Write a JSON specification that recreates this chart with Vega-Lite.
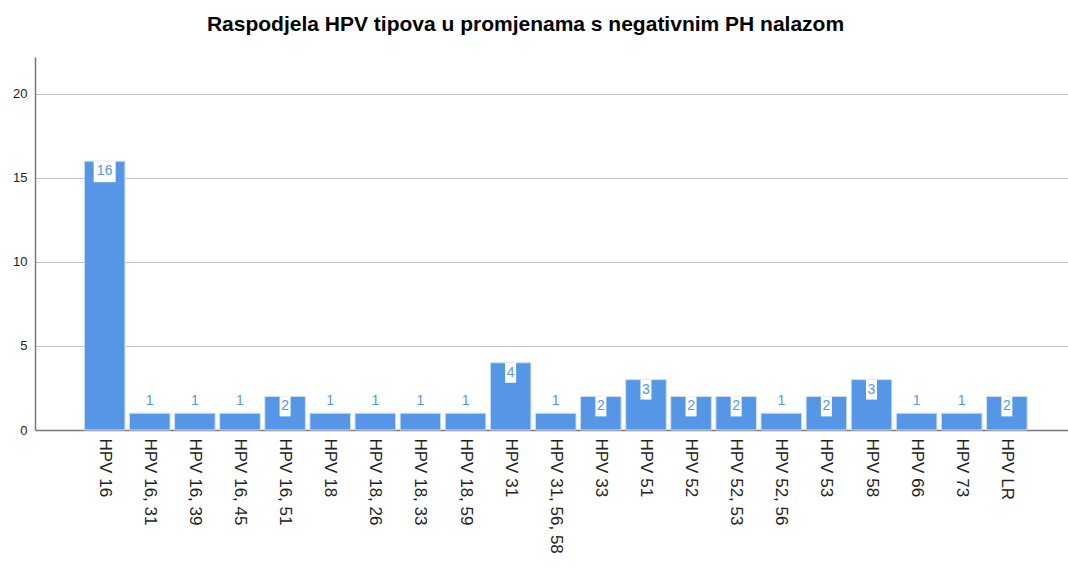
{
  "$schema": "https://vega.github.io/schema/vega-lite/v6.json",
  "autosize": "none",
  "width": 1033,
  "height": 373,
  "padding": {"left": 35, "top": 57, "right": 0, "bottom": 149},
  "background": "white",
  "title": {
    "text": "Raspodjela HPV tipova u promjenama s negativnim PH nalazom",
    "font": "Liberation Sans",
    "fontSize": 21,
    "fontWeight": "bold",
    "color": "#000000",
    "anchor": "middle",
    "dx": -26,
    "offset": 22
  },
  "config": {
    "view": {"stroke": null},
    "font": "Liberation Sans"
  },
  "data": {
    "values": [
      {"tip": "HPV 16", "n": 16},
      {"tip": "HPV 16, 31", "n": 1},
      {"tip": "HPV 16, 39", "n": 1},
      {"tip": "HPV 16, 45", "n": 1},
      {"tip": "HPV 16, 51", "n": 2},
      {"tip": "HPV 18", "n": 1},
      {"tip": "HPV 18, 26", "n": 1},
      {"tip": "HPV 18, 33", "n": 1},
      {"tip": "HPV 18, 59", "n": 1},
      {"tip": "HPV 31", "n": 4},
      {"tip": "HPV 31, 56, 58", "n": 1},
      {"tip": "HPV 33", "n": 2},
      {"tip": "HPV 51", "n": 3},
      {"tip": "HPV 52", "n": 2},
      {"tip": "HPV 52, 53", "n": 2},
      {"tip": "HPV 52, 56", "n": 1},
      {"tip": "HPV 53", "n": 2},
      {"tip": "HPV 58", "n": 3},
      {"tip": "HPV 66", "n": 1},
      {"tip": "HPV 73", "n": 1},
      {"tip": "HPV LR", "n": 2}
    ]
  },
  "encoding": {
    "x": {
      "field": "tip",
      "type": "nominal",
      "sort": null,
      "scale": {"paddingInner": 0.1, "paddingOuter": 1.22, "align": 0.547},
      "axis": {
        "title": null,
        "labelAngle": 90,
        "labelAlign": "left",
        "labelBaseline": "middle",
        "labelFontSize": 17,
        "labelColor": "#222222",
        "labelPadding": 8,
        "ticks": false,
        "domainColor": "#777777",
        "domainWidth": 1.5
      }
    }
  },
  "layer": [
    {
      "mark": {"type": "bar", "color": "#5597e6", "stroke": "#cfe0f6", "strokeWidth": 1},
      "encoding": {
        "y": {
          "field": "n",
          "type": "quantitative",
          "scale": {"domain": [0, 22.2], "nice": false},
          "axis": {
            "title": null,
            "values": [0, 5, 10, 15, 20],
            "ticks": false,
            "grid": true,
            "gridColor": "#c4c4c4",
            "gridWidth": 1,
            "domainColor": "#777777",
            "domainWidth": 1.5,
            "labelFontSize": 13,
            "labelColor": "#222222",
            "labelPadding": 8
          }
        }
      }
    },
    {
      "transform": [{"filter": "datum.n >= 2 && datum.n < 10"}],
      "mark": {"type": "bar", "color": "white", "width": 11, "y2Offset": 20},
      "encoding": {
        "y": {"field": "n", "type": "quantitative"},
        "y2": {"field": "n"}
      }
    },
    {
      "transform": [{"filter": "datum.n >= 10"}],
      "mark": {"type": "bar", "color": "white", "width": 22, "y2Offset": 21},
      "encoding": {
        "y": {"field": "n", "type": "quantitative"},
        "y2": {"field": "n"}
      }
    },
    {
      "transform": [{"filter": "datum.n >= 2"}],
      "mark": {"type": "text", "color": "#5597e6", "fontSize": 14, "baseline": "middle", "dy": 10},
      "encoding": {
        "y": {"field": "n", "type": "quantitative"},
        "text": {"field": "n", "type": "quantitative"}
      }
    },
    {
      "transform": [{"filter": "datum.n < 2"}],
      "mark": {"type": "text", "color": "#5597e6", "fontSize": 14, "baseline": "middle", "dy": -12},
      "encoding": {
        "y": {"field": "n", "type": "quantitative"},
        "text": {"field": "n", "type": "quantitative"}
      }
    }
  ]
}
